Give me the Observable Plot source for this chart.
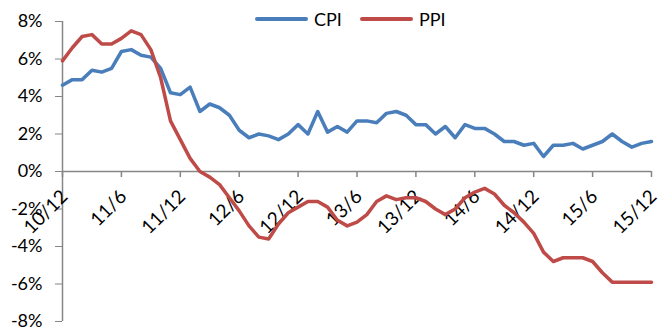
<!DOCTYPE html>
<html>
<head>
<meta charset="utf-8">
<script src="https://cdn.jsdelivr.net/npm/d3@7"></script>
<script src="https://cdn.jsdelivr.net/npm/@observablehq/plot@0.6"></script>
<style>
  html, body { margin: 0; padding: 0; background: #fff; }
  #wrap { position: relative; width: 669px; height: 331px; font-family: Lato, "Open Sans", sans-serif; }
  #legend { position: absolute; left: 0; top: 0; width: 669px; height: 0; font-size: 18px; color: #000; }
  .item { position: absolute; top: 8px; display: flex; align-items: center; height: 22px; }
  .swatch { width: 53px; height: 4px; margin-right: 6px; border-radius: 2px; }
</style>
</head>
<body>
<div id="wrap"></div>
<script>
const months = [
  "10/12",
  "11/1","11/2","11/3","11/4","11/5","11/6","11/7","11/8","11/9","11/10","11/11","11/12",
  "12/1","12/2","12/3","12/4","12/5","12/6","12/7","12/8","12/9","12/10","12/11","12/12",
  "13/1","13/2","13/3","13/4","13/5","13/6","13/7","13/8","13/9","13/10","13/11","13/12",
  "14/1","14/2","14/3","14/4","14/5","14/6","14/7","14/8","14/9","14/10","14/11","14/12",
  "15/1","15/2","15/3","15/4","15/5","15/6","15/7","15/8","15/9","15/10","15/11","15/12"
];
const cpi = [4.6,
  4.9,4.9,5.4,5.3,5.5,6.4,6.5,6.2,6.1,5.5,4.2,4.1,
  4.5,3.2,3.6,3.4,3.0,2.2,1.8,2.0,1.9,1.7,2.0,2.5,
  2.0,3.2,2.1,2.4,2.1,2.7,2.7,2.6,3.1,3.2,3.0,2.5,
  2.5,2.0,2.4,1.8,2.5,2.3,2.3,2.0,1.6,1.6,1.4,1.5,
  0.8,1.4,1.4,1.5,1.2,1.4,1.6,2.0,1.6,1.3,1.5,1.6];
const ppi = [5.9,
  6.6,7.2,7.3,6.8,6.8,7.1,7.5,7.3,6.5,5.0,2.7,1.7,
  0.7,0.0,-0.3,-0.7,-1.4,-2.1,-2.9,-3.5,-3.6,-2.8,-2.2,-1.9,
  -1.6,-1.6,-1.9,-2.6,-2.9,-2.7,-2.3,-1.6,-1.3,-1.5,-1.4,-1.4,
  -1.6,-2.0,-2.3,-2.0,-1.4,-1.1,-0.9,-1.2,-1.8,-2.2,-2.7,-3.3,
  -4.3,-4.8,-4.6,-4.6,-4.6,-4.8,-5.4,-5.9,-5.9,-5.9,-5.9,-5.9];
const xTickLabels = ["10/12","11/6","11/12","12/6","12/12","13/6","13/12","14/6","14/12","15/6","15/12"];
const yTicks = [-8,-6,-4,-2,0,2,4,6,8];
const seriesNames = ["CPI","PPI"];
const colors = ["#4A7EBB","#BE4B48"];

const gray = "#868686";
const cpiData = months.map((m, i) => ({m, v: cpi[i]}));
const ppiData = months.map((m, i) => ({m, v: ppi[i]}));

const chart = Plot.plot({
  width: 669,
  height: 331,
  marginLeft: 62,
  marginRight: 18,
  marginTop: 21,
  marginBottom: 10,
  style: {fontFamily: "Lato, 'Open Sans', sans-serif", fontSize: "18px", color: "#000", background: "#fff", overflow: "visible"},
  x: {type: "point", domain: months, padding: 0, axis: null},
  y: {domain: [-8, 8], axis: null},
  marks: [
    Plot.axisY(yTicks, {tickFormat: d => d + "%", tickSize: 7, tickPadding: 13, stroke: gray, fill: "#000", fontSize: 18, label: null}),
    Plot.ruleX([months[0]], {stroke: gray, strokeWidth: 1.5}),
    Plot.ruleY([0], {stroke: gray, strokeWidth: 1.5}),
    Plot.ruleX(xTickLabels, {x: d => d, y1: 0, y2: 0, insetBottom: -6, stroke: gray, strokeWidth: 1.5}),
    Plot.text(xTickLabels, {x: d => d, y: 0, text: d => d, rotate: -45, textAnchor: "end", dx: 2, dy: 22, fontSize: 19, fill: "#000"}),
    Plot.line(cpiData, {x: "m", y: "v", stroke: colors[0], strokeWidth: 3.5, strokeLinejoin: "round"}),
    Plot.line(ppiData, {x: "m", y: "v", stroke: colors[1], strokeWidth: 3.5, strokeLinejoin: "round"})
  ]
});

const wrap = document.getElementById("wrap");
wrap.appendChild(chart);
const legend = document.createElement("div");
legend.id = "legend";
const lefts = [255, 360];
seriesNames.forEach((name, i) => {
  const item = document.createElement("div");
  item.className = "item";
  item.style.left = lefts[i] + "px";
  const sw = document.createElement("div");
  sw.className = "swatch";
  sw.style.background = colors[i];
  const t = document.createElement("span");
  t.textContent = name;
  item.appendChild(sw);
  item.appendChild(t);
  legend.appendChild(item);
});
wrap.appendChild(legend);
</script>
</body>
</html>
